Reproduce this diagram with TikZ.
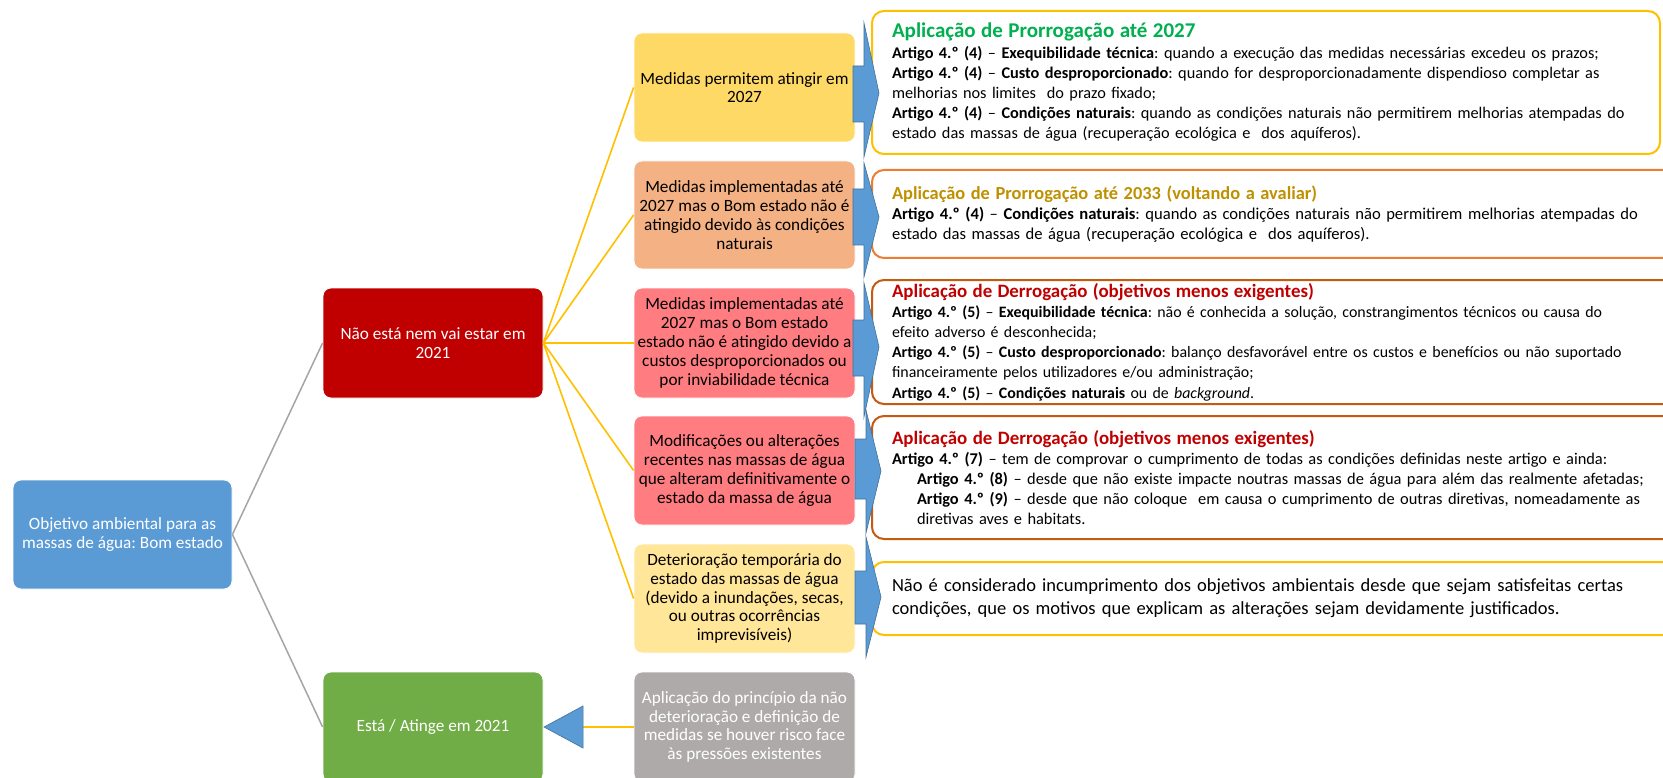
\documentclass[tikz,border=0pt]{standalone}
\usepackage{fontspec}
\setmainfont{Carlito}
\usetikzlibrary{arrows.meta}
\frenchspacing
\definecolor{rootblue}{HTML}{5B9BD5}
\definecolor{darkred}{HTML}{C00000}
\definecolor{okgreen}{HTML}{70AD47}
\definecolor{midone}{HTML}{FFD966}
\definecolor{midtwo}{HTML}{F4B183}
\definecolor{midthree}{HTML}{FF7C80}
\definecolor{midfive}{HTML}{FFE699}
\definecolor{midgray}{HTML}{AEAAAA}
\definecolor{lineyellow}{HTML}{FFC000}
\definecolor{linegray}{HTML}{A5A5A5}
\definecolor{arrowblue}{HTML}{5B9BD5}
\definecolor{arrowedge}{HTML}{41719C}
\definecolor{bordone}{HTML}{FFC000}
\definecolor{bordtwo}{HTML}{ED7D31}
\definecolor{bordthree}{HTML}{C55A11}
\definecolor{titlegreen}{HTML}{00B050}
\definecolor{titlegold}{HTML}{BF9000}
\definecolor{titlered}{HTML}{C00000}
\tikzset{
  filled/.style={rounded corners=8pt, draw=white, line width=0.8pt, align=center,
    inner xsep=1pt, inner ysep=3pt, minimum width=220pt, minimum height=109pt,
    font=\fontsize{17.2}{18.8}\selectfont},
  rbox/.style={rounded corners=12pt, draw, line width=2pt, fill=white,
    inner xsep=20pt, inner ysep=0pt, align=left},
  grayline/.style={draw=linegray, line width=1.5pt},
  yline/.style={draw=lineyellow, line width=1.6pt},
  callout/.style={fill=arrowblue, draw=arrowedge, line width=0.6pt, line join=miter}
}
\newcommand{\ttl}[3]{{\fontsize{#1}{20.2}\selectfont\bfseries\color{#2}#3}}
\begin{document}
\begin{tikzpicture}[x=1pt,y=-1pt]
\useasboundingbox (0,0) rectangle (1663,778);
\clip (0,0) rectangle (1663,778);
\fill[white] (0,0) rectangle (1663,778);

% left column
\node[filled, fill=rootblue, text=white, minimum width=219pt] (root) at (122.5,534.5)
  {Objetivo ambiental para as\\massas de água: Bom estado};
\node[filled, fill=darkred, text=white, minimum height=110pt] (red) at (433,343)
  {Não está nem vai estar em\\2021};
\node[filled, fill=okgreen, text=white, minimum height=110pt] (green) at (433,727)
  {Está / Atinge em 2021};

% middle column
\node[filled, fill=midone, minimum width=221pt] (m1) at (744.5,87.5)
  {Medidas permitem atingir em\\2027};
\node[filled, fill=midtwo, minimum width=221pt, minimum height=108pt] (m2) at (744.5,215)
  {Medidas implementadas até\\2027 mas o Bom estado não é\\atingido devido às condições\\naturais};
\node[filled, fill=midthree, minimum width=221pt, minimum height=110pt] (m3) at (744.5,343)
  {Medidas implementadas até\\2027 mas o Bom estado\\estado não é atingido devido a\\custos desproporcionados ou\\por inviabilidade técnica};
\node[filled, fill=midthree, minimum width=221pt] (m4) at (744.5,470.5)
  {Modificações ou alterações\\recentes nas massas de água\\que alteram definitivamente o\\estado da massa de água};
\node[filled, fill=midfive, minimum width=221pt] (m5) at (744.5,598.5)
  {Deterioração temporária do\\estado das massas de água\\(devido a inundações, secas,\\ou outras ocorrências\\imprevisíveis)};
\node[filled, fill=midgray, text=white, minimum width=221pt, minimum height=110pt] (m6) at (744.5,727)
  {Aplicação do princípio da não\\deterioração e definição de\\medidas se houver risco face\\às pressões existentes};

% right column
\node[rbox, draw=bordone, text width=748pt, minimum height=143pt, font=\fontsize{16.3}{20.2}\selectfont] (r1) at (1266,82.5)
  {\ttl{21}{titlegreen}{Aplicação de Prorrogação até 2027}\\
   \textbf{Artigo 4.º (4)} – \textbf{Exequibilidade técnica}: quando a execução das medidas necessárias excedeu os prazos;\\
   \textbf{Artigo 4.º (4)} – \textbf{Custo desproporcionado}: quando for desproporcionadamente dispendioso completar as\\
   melhorias nos limites\ \ do prazo fixado;\\
   \textbf{Artigo 4.º (4)} – \textbf{Condições naturais}: quando as condições naturais não permitirem melhorias atempadas do\\
   estado das massas de água (recuperação ecológica e\ \ dos aquíferos).};
\node[rbox, draw=bordtwo, text width=788pt, minimum height=88pt, font=\fontsize{16.6}{20.2}\selectfont] (r2) at (1286,214)
  {\ttl{18.4}{titlegold}{Aplicação de Prorrogação até 2033 (voltando a avaliar)}\\
   \textbf{Artigo 4.º (4)} – \textbf{Condições naturais}: quando as condições naturais não permitirem melhorias atempadas do\\
   estado das massas de água (recuperação ecológica e\ \ dos aquíferos).};
\node[rbox, draw=bordthree, text width=788pt, minimum height=124pt, font=\fontsize{15.9}{20.2}\selectfont] (r3) at (1286,342)
  {\ttl{18.9}{titlered}{Aplicação de Derrogação (objetivos menos exigentes)}\\
   \textbf{Artigo 4.º (5)} – \textbf{Exequibilidade técnica}: não é conhecida a solução, constrangimentos técnicos ou causa do\\
   efeito adverso é desconhecida;\\
   \textbf{Artigo 4.º (5)} – \textbf{Custo desproporcionado}: balanço desfavorável entre os custos e benefícios ou não suportado\\
   financeiramente pelos utilizadores e/ou administração;\\
   \textbf{Artigo 4.º (5)} – \textbf{Condições naturais} ou de \textit{background}.};
\node[rbox, draw=bordthree, text width=788pt, minimum height=123pt, font=\fontsize{16.4}{20.2}\selectfont] (r4) at (1286,477.5)
  {\ttl{18.9}{titlered}{Aplicação de Derrogação (objetivos menos exigentes)}\\
   \textbf{Artigo 4.º (7)} – tem de comprovar o cumprimento de todas as condições definidas neste artigo e ainda:\\
   \hspace*{25pt}\textbf{Artigo 4.º (8)} – desde que não existe impacte noutras massas de água para além das realmente afetadas;\\
   \hspace*{25pt}\textbf{Artigo 4.º (9)} – desde que não coloque\ \ em causa o cumprimento de outras diretivas, nomeadamente as\\
   \hspace*{25pt}diretivas aves e habitats.};
\node[rbox, draw=bordone, text width=788pt, minimum height=73pt, font=\fontsize{18.5}{23}\selectfont] (r5) at (1286,598.5)
  {Não é considerado incumprimento dos objetivos ambientais desde que sejam satisfeitas certas\\
   condições, que os motivos que explicam as alterações sejam devidamente justificados.};

% connectors
\draw[grayline] (root.east) -- (red.west);
\draw[grayline] (root.east) -- (green.west);
\foreach \m in {m1,m2,m3,m4,m5}
  \draw[yline] (red.east) -- (\m.west);
\draw[yline, -{Triangle[length=40pt, width=43pt, fill=arrowblue, color=arrowedge, line width=0.6pt]}]
  (m6.west) -- (green.east);

% callout arrows
\draw[callout] (864,23) -- (879,93) -- (864,157) -- (864,122) -- (853,122) -- (853,66) -- (864,66) -- cycle;
\draw[callout] (864,163) -- (879,217) -- (864,277) -- (864,245) -- (853,245) -- (853,189) -- (864,189) -- cycle;
\draw[callout] (864,283) -- (879,347) -- (864,417) -- (864,376) -- (853,376) -- (853,320) -- (864,320) -- cycle;
\draw[callout] (866,410) -- (881,471) -- (866,533) -- (866,499) -- (855,499) -- (855,439) -- (866,439) -- cycle;
\draw[callout] (866,537) -- (881,597) -- (866,657) -- (866,624) -- (855,624) -- (855,571) -- (866,571) -- cycle;
\end{tikzpicture}
\end{document}
